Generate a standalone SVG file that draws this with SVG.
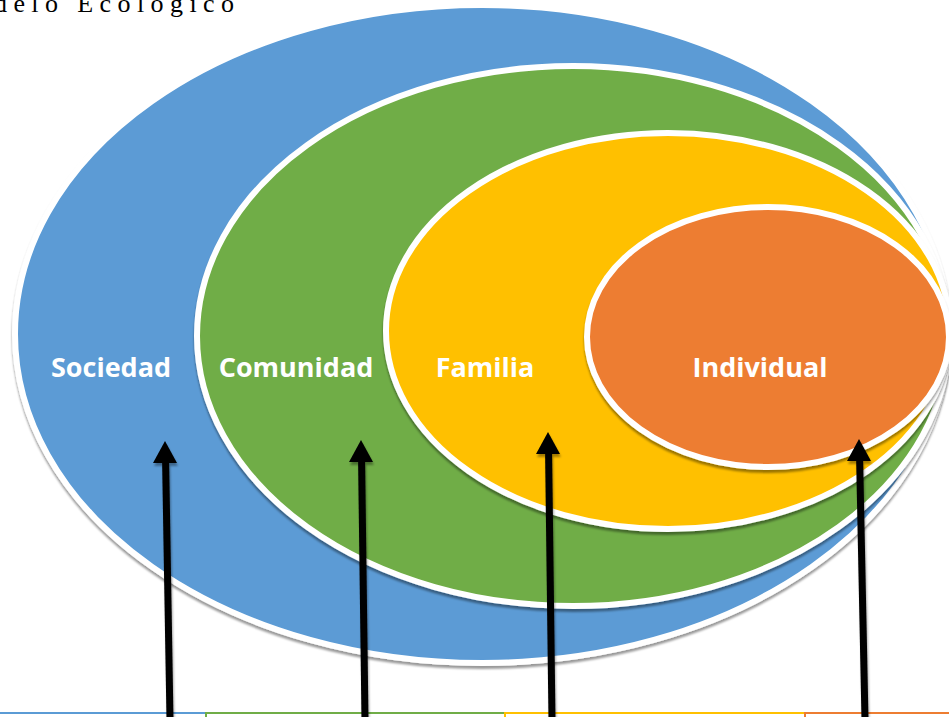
<svg xmlns="http://www.w3.org/2000/svg" width="949" height="717" viewBox="0 0 949 717">
<defs>
<filter id="sh" x="-10%" y="-10%" width="120%" height="125%">
<feDropShadow dx="0" dy="3" stdDeviation="1.2" flood-color="#000" flood-opacity="0.4"/>
</filter>
<filter id="ash" x="-50%" y="-10%" width="200%" height="120%">
<feDropShadow dx="1" dy="3" stdDeviation="1" flood-color="#000" flood-opacity="0.35"/>
</filter>
<style>
.ring{stroke:#fff;stroke-width:6;filter:url(#sh)}
.lbl{font-family:"Open Sans","Liberation Sans",sans-serif;font-weight:700;font-size:27px;fill:#fff;text-anchor:middle}
.title{font-family:"Liberation Serif","Times New Roman",serif;font-size:26px;fill:#000}
.shaft{stroke:#000;stroke-width:7;fill:none}
.head{fill:#000}
</style>
</defs>
<rect width="949" height="717" fill="#fff"/>
<text class="title" x="-6" y="12" textLength="240" lengthAdjust="spacing">delo Ecológico</text>
<g id="sociedad">
<ellipse class="ring" cx="482" cy="334" rx="467" ry="329" fill="#5B9BD5"/>
<text class="lbl" x="111" y="377">Sociedad</text>
</g>
<g id="comunidad">
<ellipse class="ring" cx="573" cy="336" rx="376" ry="270" fill="#70AD47"/>
<text class="lbl" x="296" y="377">Comunidad</text>
</g>
<g id="familia">
<ellipse class="ring" cx="668" cy="331" rx="282" ry="198" fill="#FFC000"/>
<text class="lbl" x="485" y="377">Familia</text>
</g>
<g id="individual">
<ellipse class="ring" cx="768" cy="337" rx="181" ry="130" fill="#ED7D31"/>
<text class="lbl" x="760" y="377">Individual</text>
</g>
<g id="bottom-lines">
<line x1="0" y1="713" x2="205" y2="713" stroke="#5B9BD5" stroke-width="2"/>
<path d="M206 717V713H505" stroke="#70AD47" stroke-width="2" fill="none"/>
<path d="M505 717V713H805" stroke="#FFC000" stroke-width="2" fill="none"/>
<path d="M805 717V713H949" stroke="#ED7D31" stroke-width="2" fill="none"/>
</g>
<g id="connectors" filter="url(#ash)">
<line class="shaft" x1="170" y1="720" x2="165.5" y2="455"/>
<polygon class="head" points="165,441 153,463 177,463"/>
<line class="shaft" x1="365" y1="720" x2="361.5" y2="454"/>
<polygon class="head" points="361,440 349,462 373,462"/>
<line class="shaft" x1="552" y1="720" x2="548.5" y2="446"/>
<polygon class="head" points="548,432 536,454 560,454"/>
<line class="shaft" x1="865" y1="720" x2="859.5" y2="453"/>
<polygon class="head" points="859,439 847,461 871,461"/>
</g>
</svg>
